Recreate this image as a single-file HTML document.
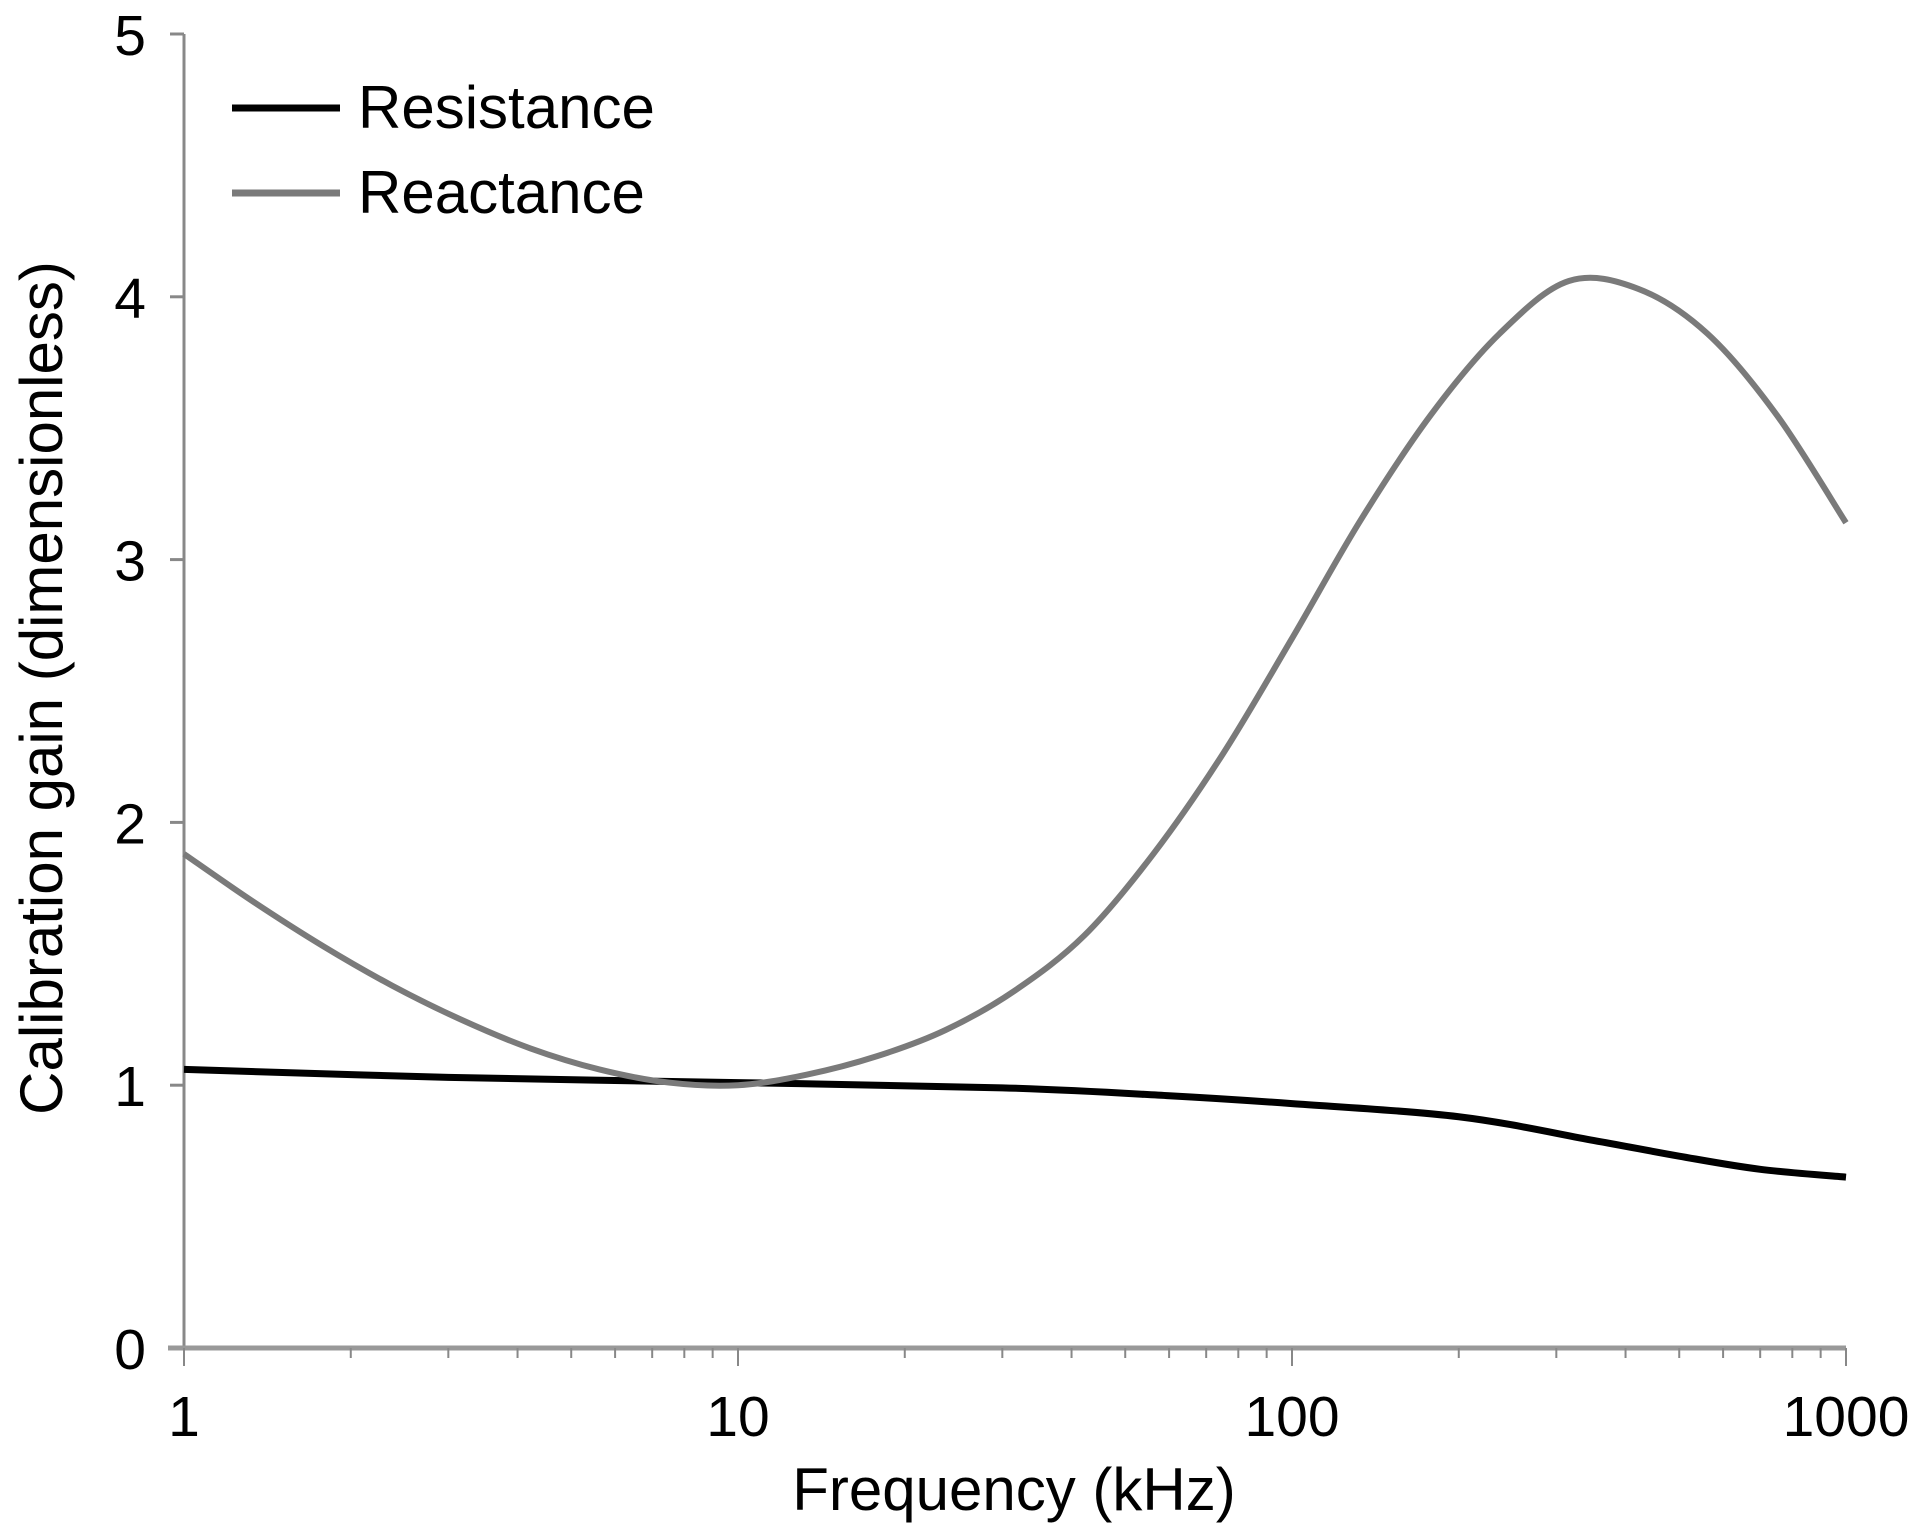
<!DOCTYPE html>
<html><head><meta charset="utf-8"><style>
html,body{margin:0;padding:0;background:#fff;}
svg{display:block;font-family:"Liberation Sans",Arial,sans-serif;}
</style></head><body>
<svg id="chart" width="1920" height="1535" viewBox="0 0 1920 1535">
<g id="axes"></g>
<g id="series"></g>
<g>
<line x1="232" y1="108" x2="340" y2="108" stroke="#000" stroke-width="7"/>
<text x="358" y="128" font-size="60">Resistance</text>
<line x1="232" y1="193" x2="340" y2="193" stroke="#7a7a7a" stroke-width="7"/>
<text x="358" y="213" font-size="60">Reactance</text>
</g>
<text x="1014" y="1510" font-size="60" text-anchor="middle">Frequency (kHz)</text>
<text transform="translate(62,688) rotate(-90)" font-size="60" text-anchor="middle">Calibration gain (dimensionless)</text>
</svg>
<script>
const freqs = [1,1.33,1.78,2.37,3.16,4.22,5.62,7.5,10,13.3,17.8,23.7,31.6,42.2,56.2,75,100,133,178,237,316,422,562,750,1000];
const reactance = [1.88,1.70,1.53,1.38,1.25,1.14,1.06,1.01,1.00,1.04,1.11,1.21,1.36,1.57,1.88,2.26,2.70,3.15,3.55,3.86,4.06,4.03,3.86,3.55,3.14];
const resFreqs = [1,3,10,30,60,100,200,350,500,700,1000];
const resistance = [1.06,1.03,1.01,0.99,0.96,0.93,0.88,0.79,0.73,0.68,0.65];
const xTickLabels = ["1","10","100","1000"];
const yTickLabels = ["0","1","2","3","4","5"];

const X0=184, X1=1846, Y0=1348, Y1=34;
function xs(f){return X0+(Math.log10(f)/3)*(X1-X0);}
function ys(v){return Y0-(v/5)*(Y0-Y1);}
const NS="http://www.w3.org/2000/svg";
function mk(tag,attrs,parent){const e=document.createElementNS(NS,tag);for(const k in attrs)e.setAttribute(k,attrs[k]);parent.appendChild(e);return e;}
const ax=document.getElementById('axes');
let yl=mk('line',{x1:X0,y1:Y1,x2:X0,y2:Y0,stroke:'#888','stroke-width':3},ax);


yTickLabels.forEach((t,i)=>{
  const v=parseFloat(t);
  const tk=mk('line',{x1:X0-14,y1:ys(v),x2:X0,y2:ys(v),stroke:'#888','stroke-width':3},ax);
  
  
  const tx=mk('text',{x:146,y:ys(v)+21,'font-size':57,'text-anchor':'end'},ax);
  tx.textContent=t;
  
  
});
let xl=mk('line',{x1:X0-16,y1:Y0,x2:X1,y2:Y0,stroke:'#999','stroke-width':5},ax);


for(let d=0;d<3;d++){for(let m=2;m<=9;m++){
  const f=Math.pow(10,d)*m;
  const tk=mk('line',{x1:xs(f),y1:Y0,x2:xs(f),y2:Y0+10,stroke:'#888','stroke-width':2},ax);
  
  
}}
xTickLabels.forEach(t=>{
  const f=parseFloat(t);
  const tk=mk('line',{x1:xs(f),y1:Y0,x2:xs(f),y2:Y0+18,stroke:'#888','stroke-width':2},ax);
  
  
  const tx=mk('text',{x:xs(f),y:1436,'font-size':57,'text-anchor':'middle'},ax);
  tx.textContent=t;
  
  
});
function smoothPath(px){
  let d='M'+px[0][0]+','+px[0][1];
  for(let i=0;i<px.length-1;i++){
    const p0=px[Math.max(0,i-1)],p1=px[i],p2=px[i+1],p3=px[Math.min(px.length-1,i+2)];
    const c1=[p1[0]+(p2[0]-p0[0])/6,p1[1]+(p2[1]-p0[1])/6];
    const c2=[p2[0]-(p3[0]-p1[0])/6,p2[1]-(p3[1]-p1[1])/6];
    d+=' C'+c1[0]+','+c1[1]+' '+c2[0]+','+c2[1]+' '+p2[0]+','+p2[1];
  }
  return d;
}
const sg=document.getElementById('series');
const p1=mk('path',{d:smoothPath(resFreqs.map((f,i)=>[xs(f),ys(resistance[i])])),fill:'none',stroke:'#000','stroke-width':7},sg);


const p2=mk('path',{d:smoothPath(freqs.map((f,i)=>[xs(f),ys(reactance[i])])),fill:'none',stroke:'#7a7a7a','stroke-width':6},sg);


</script>
</body></html>
